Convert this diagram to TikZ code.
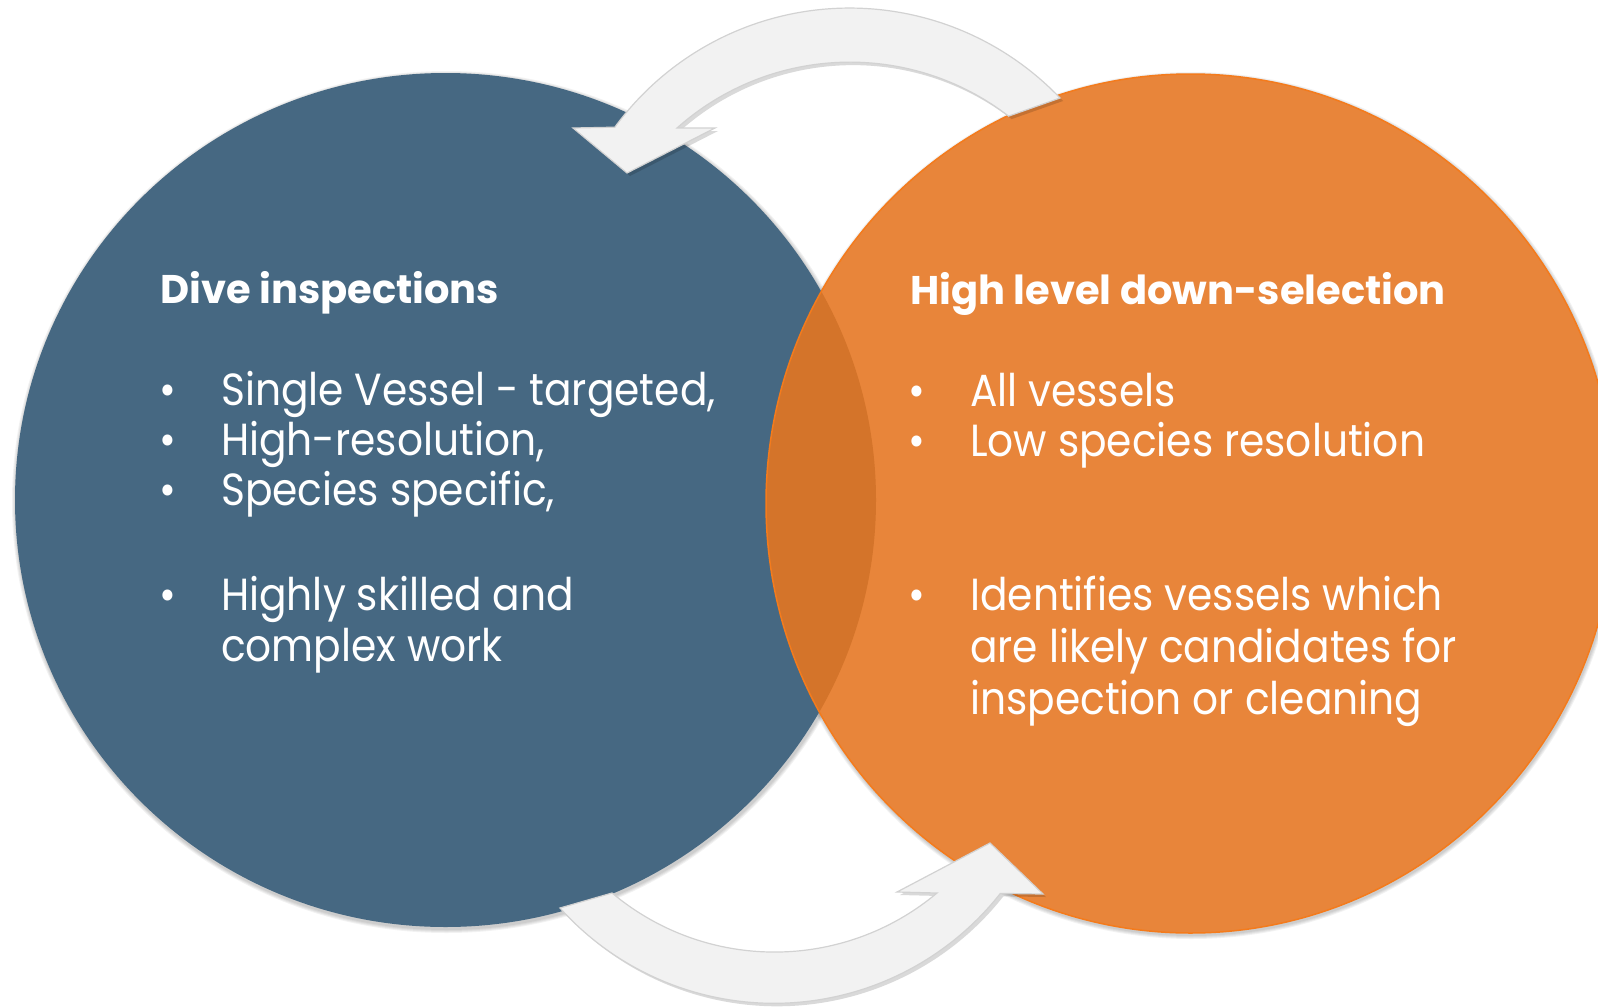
\documentclass[tikz,border=0pt]{standalone}
\usepackage{fontspec}
\setmainfont{Poppins}
\newfontfamily\itemfont{Poppins}[FakeStretch=0.905]
\usetikzlibrary{shadows}
\definecolor{bluefill}{RGB}{70,104,130}
\definecolor{orfill}{RGB}{232,133,58}
\definecolor{orlens}{RGB}{212,116,42}
\definecolor{orline}{RGB}{244,123,28}
\definecolor{arrfill}{RGB}{242,242,242}
\definecolor{arrline}{RGB}{210,210,210}
\tikzset{
  titletext/.style={anchor=base west, inner sep=0pt, text=white, font=\fontsize{40}{48}\selectfont\bfseries},
  itemtext/.style={anchor=base west, inner sep=0pt, text=white, font=\itemfont\fontsize{45}{52}\selectfont},
  band/.style={fill=arrfill, draw=arrline, line width=1.2pt, line join=miter,
    drop shadow={shadow xshift=3pt, shadow yshift=-3pt, opacity=0.15, fill=black}},
  softshadow/.style={fill=black, opacity=0.05},
  leftdisc/.style={x radius=430.5, y radius=427},
  rightdisc/.style={x radius=424.5, y radius=429.5},
}
\begin{document}
\begin{tikzpicture}[x=1pt,y=-1pt]
\useasboundingbox (0,0) rectangle (1598,1007);
\fill[white] (0,0) rectangle (1598,1007);
\clip (0,0) rectangle (1598,1007);
\coordinate (dive) at (445.5,500);
\coordinate (high) at (1190.5,503.5);
% circle shadows
\foreach \k in {1,2,3,4}{
  \fill[softshadow] ([shift={(1,2)}]dive) ellipse[x radius=430.5+\k, y radius=427+\k];
  \fill[softshadow] ([shift={(1,2)}]high) ellipse[x radius=424.5+\k, y radius=429.5+\k];
}
% discs
\fill[bluefill] (dive) ellipse[leftdisc];
\fill[orfill] (high) ellipse[rightdisc];
\begin{scope}
  \clip (dive) ellipse[leftdisc];
  \fill[orlens] (high) ellipse[rightdisc];
\end{scope}
\draw[orline, line width=1.5pt] (high) ellipse[rightdisc];
% curved arrows
\path[band] (1060,98) arc[start angle=-43.7, end angle=-143.8, radius=291]
  -- (573,128) -- (627,173) -- (715,128) -- (677,128)
  arc[start angle=-131.7, end angle=-52.4, radius=260] -- cycle;
\path[band] (560,908) arc[start angle=138, end angle=38.2, radius=288]
  -- (1043,894) -- (990,843) -- (897,892) -- (937,893)
  arc[start angle=50.05, end angle=129.95, radius=253] -- cycle;
% left texts
\node[titletext] (t1) at (160,303) {Dive inspections};
\node[itemtext] (b1) at (159,405) {•};
\node[itemtext] (l1) at (221,405) {Single Vessel - targeted,};
\node[itemtext] (b2) at (159,455) {•};
\node[itemtext] (l2) at (221,455) {High-resolution,};
\node[itemtext] (b3) at (159,505) {•};
\node[itemtext] (l3) at (221,505) {Species specific,};
\node[itemtext] (b4) at (159,610) {•};
\node[itemtext] (l4) at (221,610) {Highly skilled and};
\node[itemtext] (l5) at (221,661) {complex work};
% right texts
\node[titletext] (t2) at (910,304) {High level down-selection};
\node[itemtext] (c1) at (908,406) {•};
\node[itemtext] (r1) at (970,406) {All vessels};
\node[itemtext] (c2) at (908,456) {•};
\node[itemtext] (r2) at (970,456) {Low species resolution};
\node[itemtext] (c3) at (908,610) {•};
\node[itemtext] (r3) at (970,610) {Identifies vessels which};
\node[itemtext] (r4) at (970,662) {are likely candidates for};
\node[itemtext] (r5) at (970,714) {inspection or cleaning};
\end{tikzpicture}
\end{document}
